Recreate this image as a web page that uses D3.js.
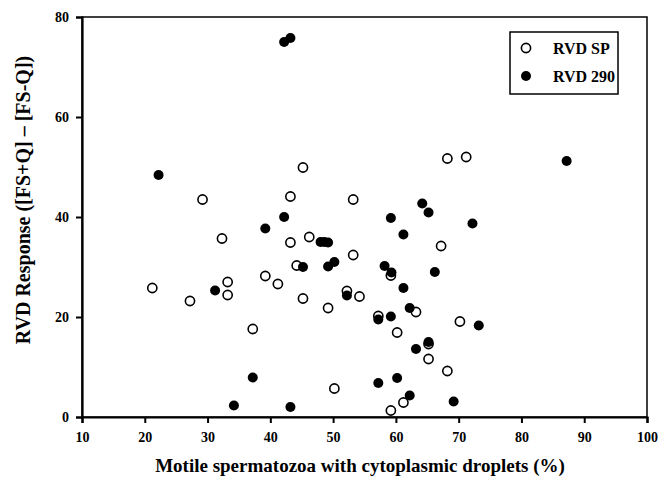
<!DOCTYPE html>
<html>
<head>
<meta charset="utf-8">
<script src="https://cdnjs.cloudflare.com/ajax/libs/d3/7.8.5/d3.min.js"></script>
<style>
  body { margin: 0; background: #fff; }
  svg text { font-family: "Liberation Serif", "Times New Roman", serif; font-weight: bold; }
</style>
</head>
<body>
<svg id="chart" width="663" height="485"></svg>
<script>
// data
var xTicks = [10, 20, 30, 40, 50, 60, 70, 80, 90, 100];
var yTicks = [0, 20, 40, 60, 80];

var rvdSP = [
    [21.2, 25.8], [27.2, 23.2], [29.2, 43.5], [32.3, 35.7], [33.2, 27.0],
    [33.2, 24.4], [37.2, 17.6], [39.2, 28.2], [41.2, 26.6], [43.2, 44.1],
    [43.2, 34.9], [44.2, 30.3], [45.2, 49.9], [45.2, 23.7], [46.2, 36.0],
    [49.2, 21.8], [50.2, 5.7], [52.2, 25.2], [53.2, 32.4], [53.2, 43.5],
    [54.2, 24.1], [57.2, 20.2], [59.2, 28.3], [59.2, 1.3], [60.2, 16.9],
    [61.2, 2.9], [63.2, 21.0], [65.2, 11.6], [65.2, 14.6], [67.2, 34.2],
    [68.2, 51.7], [68.2, 9.2], [70.2, 19.1], [71.2, 52.0]
];

var rvd290 = [
    [22.2, 48.4], [31.2, 25.3], [34.2, 2.3], [37.2, 7.9], [39.2, 37.7],
    [42.2, 40.0], [42.2, 75.0], [43.2, 75.8], [43.2, 2.0], [45.2, 30.0],
    [48.0, 35.0], [48.6, 35.0], [49.2, 34.9], [49.2, 30.1], [50.2, 31.0],
    [52.2, 24.3], [57.2, 19.5], [57.2, 6.8], [58.2, 30.2], [59.2, 39.8],
    [59.3, 28.9], [59.2, 20.1], [60.2, 7.8], [61.2, 36.5], [61.2, 25.8],
    [62.2, 21.8], [62.2, 4.3], [63.2, 13.6], [64.2, 42.7], [65.2, 40.9],
    [65.2, 15.0], [66.2, 29.0], [69.2, 3.1], [72.2, 38.7], [73.2, 18.3],
    [87.2, 51.2]
];

var seriesNames = ["RVD SP", "RVD 290"];

var margin = { top: 17, right: 16, bottom: 68, left: 82 },
    W = 663, H = 485,
    width = W - margin.left - margin.right,
    height = H - margin.top - margin.bottom;

var svg = d3.select('#chart');
var g = svg.append('g').attr('transform', 'translate(' + margin.left + ',' + margin.top + ')');

var x = d3.scaleLinear().domain([10, 100]).range([0, width]);
var y = d3.scaleLinear().domain([0, 80]).range([height, 0]);

// frame
g.append('rect')
    .attr('x', 0).attr('y', 0)
    .attr('width', width).attr('height', height)
    .attr('fill', 'none').attr('stroke', '#000').attr('stroke-width', 1.5);

var xAxis = g.append('g')
    .attr('transform', 'translate(0,' + height + ')')
    .call(d3.axisBottom(x).tickValues(xTicks).tickSize(6).tickPadding(9).tickFormat(d3.format('d')));

var yAxis = g.append('g')
    .call(d3.axisLeft(y).tickValues(yTicks).tickSize(6).tickPadding(7).tickFormat(d3.format('d')));

[xAxis, yAxis].forEach(function(a) {
    a.select('.domain').attr('stroke', '#000').attr('stroke-width', 2.2);
    a.selectAll('.tick line').attr('stroke', '#000').attr('stroke-width', 2);
    a.selectAll('.tick text')
        .attr('fill', '#000')
        .style('font-size', '14px');
});

// points
g.selectAll('.sp')
    .data(rvdSP)
    .enter().append('circle')
    .attr('class', 'sp')
    .attr('cx', function(d) { return x(d[0]); })
    .attr('cy', function(d) { return y(d[1]); })
    .attr('r', 4.6)
    .attr('fill', '#fff')
    .attr('stroke', '#000')
    .attr('stroke-width', 1.6);

g.selectAll('.r290')
    .data(rvd290)
    .enter().append('circle')
    .attr('class', 'r290')
    .attr('cx', function(d) { return x(d[0]); })
    .attr('cy', function(d) { return y(d[1]); })
    .attr('r', 5)
    .attr('fill', '#000');

// legend
var legend = svg.append('g').attr('transform', 'translate(510,32)');
legend.append('rect')
    .attr('width', 108).attr('height', 62)
    .attr('fill', '#fff').attr('stroke', '#000').attr('stroke-width', 1.5);

seriesNames.forEach(function(name, i) {
    var row = legend.append('g').attr('transform', 'translate(0,' + (16 + i * 28) + ')');
    if (i === 0) {
        row.append('circle').attr('cx', 16).attr('cy', 0).attr('r', 4.6)
            .attr('fill', '#fff').attr('stroke', '#000').attr('stroke-width', 1.6);
    } else {
        row.append('circle').attr('cx', 16).attr('cy', 0).attr('r', 5).attr('fill', '#000');
    }
    row.append('text')
        .attr('x', 43).attr('y', 5.5)
        .style('font-size', '16px')
        .text(name);
});

// axis titles
svg.append('text')
    .attr('x', 360)
    .attr('y', 472)
    .attr('text-anchor', 'middle')
    .style('font-size', '19px')
    .text('Motile spermatozoa with cytoplasmic droplets (%)');

svg.append('text')
    .attr('transform', 'translate(30,' + 200 + ') rotate(-90)')
    .attr('text-anchor', 'middle')
    .style('font-size', '20px')
    .text('RVD Response ([FS+Q] \u2013 [FS-Q])');
</script>
</body>
</html>
